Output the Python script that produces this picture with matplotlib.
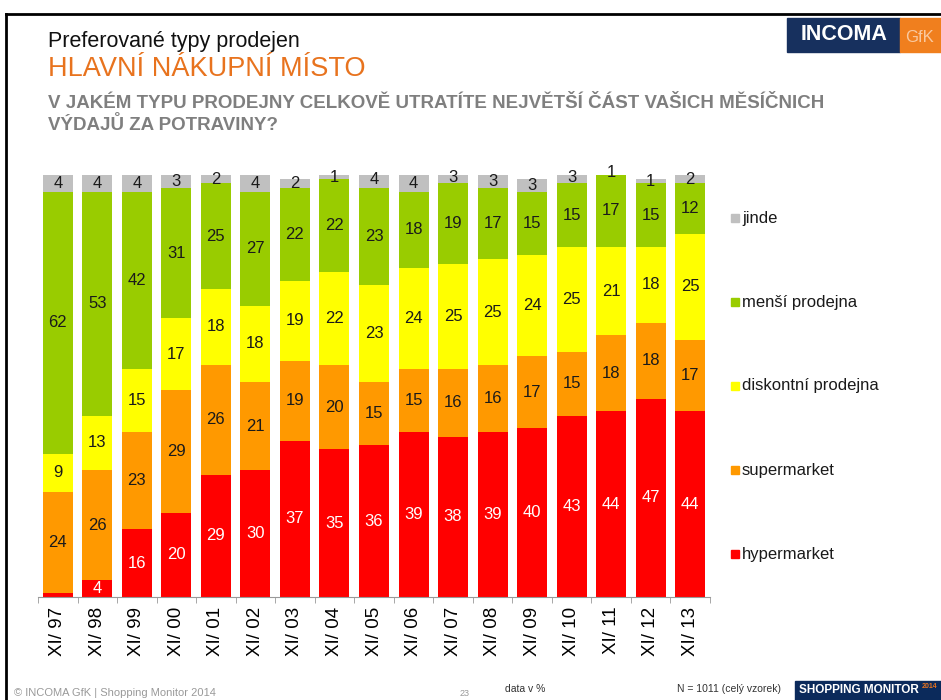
import numpy as np
import matplotlib
matplotlib.use("Agg")
import matplotlib.pyplot as plt
from matplotlib.patches import Rectangle

plt.rcParams['font.family'] = ['Liberation Sans Narrow', 'Liberation Sans', 'DejaVu Sans']

years = ["XI/ 97", "XI/ 98", "XI/ 99", "XI/ 00", "XI/ 01", "XI/ 02", "XI/ 03", "XI/ 04",
         "XI/ 05", "XI/ 06", "XI/ 07", "XI/ 08", "XI/ 09", "XI/ 10", "XI/ 11", "XI/ 12", "XI/ 13"]

hypermarket = [1, 4, 16, 20, 29, 30, 37, 35, 36, 39, 38, 39, 40, 43, 44, 47, 44]
supermarket = [24, 26, 23, 29, 26, 21, 19, 20, 15, 15, 16, 16, 17, 15, 18, 18, 17]
diskontni = [9, 13, 15, 17, 18, 18, 19, 22, 23, 24, 25, 25, 24, 25, 21, 18, 25]
mensi = [62, 53, 42, 31, 25, 27, 22, 22, 23, 18, 19, 17, 15, 15, 17, 15, 12]
jinde = [4, 4, 4, 3, 2, 4, 2, 1, 4, 4, 3, 3, 3, 3, 1, 1, 2]

series = [
    ("hypermarket", hypermarket, "#FF0000", "white"),
    ("supermarket", supermarket, "#FF9900", "#1a1a1a"),
    ("diskontní prodejna", diskontni, "#FFFF00", "#1a1a1a"),
    ("menší prodejna", mensi, "#99CC00", "#1a1a1a"),
    ("jinde", jinde, "#C0C0C0", "#1a1a1a"),
]

W, H = 941, 700
fig = plt.figure(figsize=(W / 100, H / 100), dpi=100)
fig.patch.set_facecolor("white")
sans = ['Liberation Sans', 'DejaVu Sans']

# okraj slidu
fig.add_artist(plt.Line2D([6 / W, 6 / W], [0, 1 - 14 / H], color="black", lw=2))
fig.add_artist(plt.Line2D([6 / W, 1], [1 - 14 / H, 1 - 14 / H], color="black", lw=2))

ax = fig.add_axes([38 / W, 103 / H, 672 / W, 422 / H])
x = np.arange(len(years))
bottom = np.zeros(len(years))
for name, vals, col, tcol in series:
    vals = np.array(vals)
    ax.bar(x, vals, 0.76, bottom=bottom, color=col, linewidth=0)
    for i, v in enumerate(vals):
        if name == "hypermarket" and v < 2:
            continue
        ax.text(x[i], bottom[i] + v / 2, str(v), ha="center", va="center",
                fontsize=12, color=tcol, family=sans)
    bottom += vals

ax.set_xlim(-0.5, len(years) - 0.5)
ax.set_ylim(0, 100)
ax.set_yticks([])
for s in ["top", "right", "left"]:
    ax.spines[s].set_visible(False)
ax.spines["bottom"].set_color("#999999")
ax.set_xticks(x)
ax.set_xticklabels(years, rotation=90, fontsize=13.5, family=sans)
ax.tick_params(axis="x", which="major", length=0, pad=7)
ax.set_xticks(np.arange(-0.5, len(years), 1), minor=True)
ax.tick_params(axis="x", which="minor", length=4, color="#999999")

# legenda
leg_y = [218, 302, 386, 470, 554]
for (name, vals, col, tcol), yy in zip(series[::-1], leg_y):
    fig.add_artist(Rectangle((731 / W, 1 - (yy + 4) / H), 8 / W, 8 / H, color=col,
                             transform=fig.transFigure))
    fig.text(742 / W, 1 - yy / H, name, fontsize=12, va="center", color="#1a1a1a", family=sans)

# nadpisy
fig.text(48 / W, 1 - 42 / H, "Preferované typy prodejen", fontsize=15.5, va="center",
         color="#111111")
fig.text(48 / W, 1 - 69 / H, "HLAVNÍ NÁKUPNÍ MÍSTO", fontsize=19.5, va="center", color="#E8731E")
fig.text(48 / W, 1 - 104 / H, "V JAKÉM TYPU PRODEJNY CELKOVĚ UTRATÍTE NEJVĚTŠÍ ČÁST VAŠICH MĚSÍČNICH",
         fontsize=13.5, va="center", color="#7f7f7f", fontweight="bold")
fig.text(48 / W, 1 - 125 / H, "VÝDAJŮ ZA POTRAVINY?", fontsize=13.5, va="center",
         color="#7f7f7f", fontweight="bold")

# logo
fig.add_artist(Rectangle((787 / W, 1 - 52 / H), 113 / W, 34 / H, color="#17305E",
                         transform=fig.transFigure))
fig.add_artist(Rectangle((900 / W, 1 - 52 / H), 41 / W, 34 / H, color="#F07F1E",
                         transform=fig.transFigure))
fig.text(844 / W, 1 - 35 / H, "INCOMA", fontsize=15.5, fontweight="bold", color="white",
         ha="center", va="center", family=sans)
fig.text(920 / W, 1 - 37 / H, "GfK", fontsize=12, color="#F9C9A0",
         ha="center", va="center", family=sans)

# paticka
fig.text(14 / W, 1 - 693 / H, "© INCOMA GfK | Shopping Monitor 2014", fontsize=8, color="#999999",
         va="center", family=sans)
fig.text(460 / W, 1 - 694 / H, "23", fontsize=6.5, color="#999999", va="center", family=sans)
fig.text(505 / W, 1 - 689 / H, "data v %", fontsize=7.5, color="#333333", va="center", family=sans)
fig.text(677 / W, 1 - 689 / H, "N = 1011 (celý vzorek)", fontsize=7.5, color="#333333", va="center",
         family=sans)
fig.add_artist(Rectangle((795 / W, 0), 146 / W, 19 / H, color="#0B2A5B", transform=fig.transFigure))
fig.text(799 / W, 1 - 690 / H, "SHOPPING MONITOR", fontsize=8.5, fontweight="bold", color="white",
         va="center", family=sans)
fig.text(922 / W, 1 - 686 / H, "2014", fontsize=5, fontweight="bold", color="#E8731E",
         va="center", family=sans)

fig.savefig("out.png", dpi=100, facecolor="white")
